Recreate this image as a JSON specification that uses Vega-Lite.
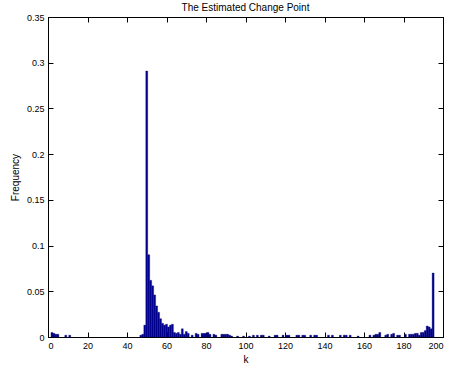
{
  "$schema": "https://vega.github.io/schema/vega-lite/v6.json",
  "width": 395,
  "height": 320,
  "autosize": "none",
  "padding": {"left": 48, "top": 17, "right": 7, "bottom": 31},
  "background": "white",
  "title": {"text": "The Estimated Change Point", "fontSize": 10, "fontWeight": "normal", "font": "Liberation Sans", "color": "black", "offset": 0},
  "config": {
    "view": {"stroke": "black", "strokeWidth": 1},
    "axis": {"labelFont": "Liberation Sans", "titleFont": "Liberation Sans", "labelFontSize": 9, "titleFontSize": 10, "titleFontWeight": "normal", "labelColor": "black", "titleColor": "black", "domainColor": "black", "tickColor": "black", "grid": false, "tickSize": -5}
  },
  "data": {"values": [
    {"lo": 1.5, "hi": 2.5, "freq": 0.005},
    {"lo": 2.5, "hi": 3.5, "freq": 0.004},
    {"lo": 3.5, "hi": 4.5, "freq": 0.003},
    {"lo": 4.5, "hi": 5.5, "freq": 0.003},
    {"lo": 8.5, "hi": 9.5, "freq": 0.002},
    {"lo": 10.5, "hi": 11.5, "freq": 0.002},
    {"lo": 46.5, "hi": 47.5, "freq": 0.002},
    {"lo": 47.5, "hi": 48.5, "freq": 0.003},
    {"lo": 48.5, "hi": 49.5, "freq": 0.013},
    {"lo": 49.5, "hi": 50.5, "freq": 0.291},
    {"lo": 50.5, "hi": 51.5, "freq": 0.090},
    {"lo": 51.5, "hi": 52.5, "freq": 0.062},
    {"lo": 52.5, "hi": 53.5, "freq": 0.056},
    {"lo": 53.5, "hi": 54.5, "freq": 0.046},
    {"lo": 54.5, "hi": 55.5, "freq": 0.034},
    {"lo": 55.5, "hi": 56.5, "freq": 0.027},
    {"lo": 56.5, "hi": 57.5, "freq": 0.020},
    {"lo": 57.5, "hi": 58.5, "freq": 0.015},
    {"lo": 58.5, "hi": 59.5, "freq": 0.013},
    {"lo": 59.5, "hi": 60.5, "freq": 0.014},
    {"lo": 60.5, "hi": 61.5, "freq": 0.011},
    {"lo": 61.5, "hi": 62.5, "freq": 0.013},
    {"lo": 62.5, "hi": 63.5, "freq": 0.014},
    {"lo": 63.5, "hi": 64.5, "freq": 0.005},
    {"lo": 64.5, "hi": 65.5, "freq": 0.004},
    {"lo": 65.5, "hi": 66.5, "freq": 0.005},
    {"lo": 66.5, "hi": 67.5, "freq": 0.003},
    {"lo": 67.5, "hi": 68.5, "freq": 0.009},
    {"lo": 68.5, "hi": 69.5, "freq": 0.003},
    {"lo": 69.5, "hi": 70.5, "freq": 0.006},
    {"lo": 70.5, "hi": 71.5, "freq": 0.004},
    {"lo": 72.5, "hi": 73.5, "freq": 0.002},
    {"lo": 74.5, "hi": 75.5, "freq": 0.004},
    {"lo": 75.5, "hi": 76.5, "freq": 0.003},
    {"lo": 77.5, "hi": 78.5, "freq": 0.004},
    {"lo": 78.5, "hi": 79.5, "freq": 0.004},
    {"lo": 79.5, "hi": 80.5, "freq": 0.004},
    {"lo": 80.5, "hi": 81.5, "freq": 0.005},
    {"lo": 81.5, "hi": 82.5, "freq": 0.003},
    {"lo": 83.5, "hi": 84.5, "freq": 0.003},
    {"lo": 84.5, "hi": 85.5, "freq": 0.002},
    {"lo": 87.5, "hi": 88.5, "freq": 0.003},
    {"lo": 88.5, "hi": 89.5, "freq": 0.003},
    {"lo": 89.5, "hi": 90.5, "freq": 0.003},
    {"lo": 90.5, "hi": 91.5, "freq": 0.003},
    {"lo": 91.5, "hi": 92.5, "freq": 0.002},
    {"lo": 92.5, "hi": 93.5, "freq": 0.001},
    {"lo": 95.5, "hi": 96.5, "freq": 0.001},
    {"lo": 98.5, "hi": 99.5, "freq": 0.001},
    {"lo": 101.5, "hi": 102.5, "freq": 0.001},
    {"lo": 103.5, "hi": 104.5, "freq": 0.002},
    {"lo": 105.5, "hi": 106.5, "freq": 0.002},
    {"lo": 107.5, "hi": 108.5, "freq": 0.002},
    {"lo": 108.5, "hi": 109.5, "freq": 0.002},
    {"lo": 111.5, "hi": 112.5, "freq": 0.001},
    {"lo": 114.5, "hi": 115.5, "freq": 0.002},
    {"lo": 115.5, "hi": 116.5, "freq": 0.002},
    {"lo": 118.5, "hi": 119.5, "freq": 0.002},
    {"lo": 120.5, "hi": 121.5, "freq": 0.002},
    {"lo": 121.5, "hi": 122.5, "freq": 0.002},
    {"lo": 125.5, "hi": 126.5, "freq": 0.002},
    {"lo": 126.5, "hi": 127.5, "freq": 0.002},
    {"lo": 128.5, "hi": 129.5, "freq": 0.002},
    {"lo": 129.5, "hi": 130.5, "freq": 0.002},
    {"lo": 132.5, "hi": 133.5, "freq": 0.002},
    {"lo": 134.5, "hi": 135.5, "freq": 0.002},
    {"lo": 135.5, "hi": 136.5, "freq": 0.002},
    {"lo": 141.5, "hi": 142.5, "freq": 0.002},
    {"lo": 143.5, "hi": 144.5, "freq": 0.002},
    {"lo": 147.5, "hi": 148.5, "freq": 0.002},
    {"lo": 149.5, "hi": 150.5, "freq": 0.002},
    {"lo": 150.5, "hi": 151.5, "freq": 0.002},
    {"lo": 152.5, "hi": 153.5, "freq": 0.002},
    {"lo": 156.5, "hi": 157.5, "freq": 0.001},
    {"lo": 162.5, "hi": 163.5, "freq": 0.002},
    {"lo": 164.5, "hi": 165.5, "freq": 0.002},
    {"lo": 165.5, "hi": 166.5, "freq": 0.003},
    {"lo": 166.5, "hi": 167.5, "freq": 0.003},
    {"lo": 167.5, "hi": 168.5, "freq": 0.005},
    {"lo": 170.5, "hi": 171.5, "freq": 0.002},
    {"lo": 171.5, "hi": 172.5, "freq": 0.003},
    {"lo": 173.5, "hi": 174.5, "freq": 0.003},
    {"lo": 174.5, "hi": 175.5, "freq": 0.004},
    {"lo": 176.5, "hi": 177.5, "freq": 0.002},
    {"lo": 177.5, "hi": 178.5, "freq": 0.002},
    {"lo": 180.5, "hi": 181.5, "freq": 0.003},
    {"lo": 182.5, "hi": 183.5, "freq": 0.003},
    {"lo": 183.5, "hi": 184.5, "freq": 0.003},
    {"lo": 184.5, "hi": 185.5, "freq": 0.003},
    {"lo": 185.5, "hi": 186.5, "freq": 0.004},
    {"lo": 186.5, "hi": 187.5, "freq": 0.004},
    {"lo": 187.5, "hi": 188.5, "freq": 0.002},
    {"lo": 188.5, "hi": 189.5, "freq": 0.005},
    {"lo": 189.5, "hi": 190.5, "freq": 0.005},
    {"lo": 190.5, "hi": 191.5, "freq": 0.007},
    {"lo": 191.5, "hi": 192.5, "freq": 0.012},
    {"lo": 192.5, "hi": 193.5, "freq": 0.011},
    {"lo": 193.5, "hi": 194.5, "freq": 0.009},
    {"lo": 194.5, "hi": 195.5, "freq": 0.070}
  ]},
  "resolve": {"axis": {"x": "independent", "y": "independent"}},
  "layer": [
    {
      "mark": {"type": "bar", "color": "#00008F", "stroke": "#00006A", "strokeWidth": 0.3},
      "encoding": {
        "x": {"field": "lo", "type": "quantitative", "scale": {"domain": [0, 200], "nice": false, "zero": false},
              "axis": {"title": "k", "values": [0,20,40,60,80,100,120,140,160,180,200], "labelPadding": 9, "titlePadding": 4}},
        "x2": {"field": "hi"},
        "y": {"field": "freq", "type": "quantitative", "scale": {"domain": [0, 0.35], "nice": false},
              "axis": {"title": "Frequency", "values": [0,0.05,0.1,0.15,0.2,0.25,0.3,0.35], "format": ".2~f", "labelPadding": 9, "titlePadding": 6}},
        "y2": {"datum": 0}
      }
    },
    {
      "mark": {"type": "point", "opacity": 0},
      "encoding": {
        "x": {"field": "lo", "type": "quantitative", "axis": {"orient": "top", "labels": false, "title": null, "values": [0,20,40,60,80,100,120,140,160,180,200]}},
        "y": {"field": "freq", "type": "quantitative", "axis": {"orient": "right", "labels": false, "title": null, "values": [0,0.05,0.1,0.15,0.2,0.25,0.3,0.35]}}
      }
    }
  ]
}
